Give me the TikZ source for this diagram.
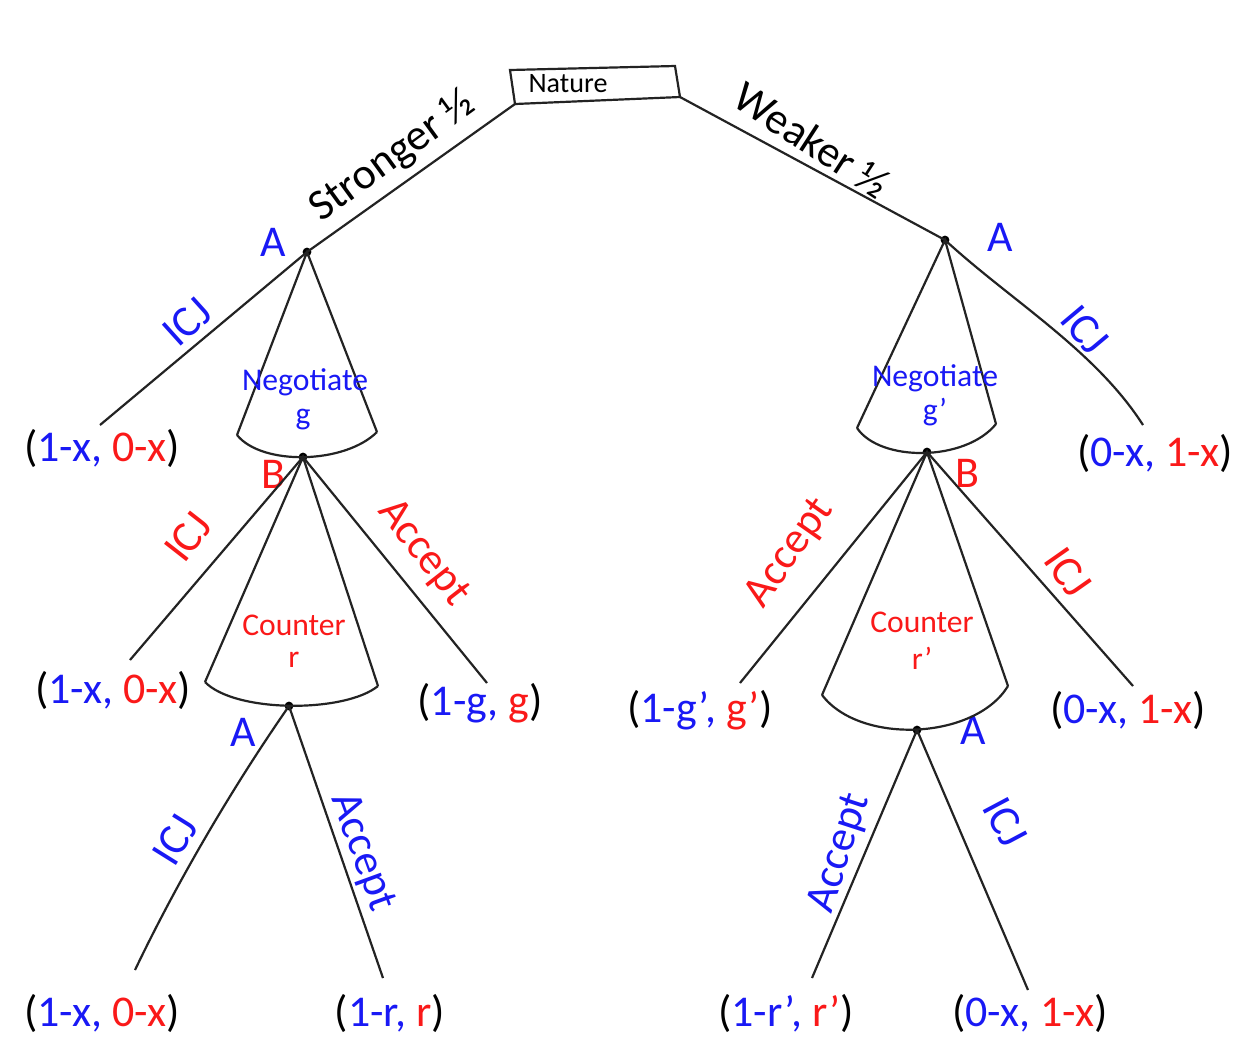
\documentclass[tikz,border=0pt]{standalone}
\usepackage{fontspec}
\setmainfont{Carlito}
\definecolor{pblue}{RGB}{25,25,245}
\definecolor{pred}{RGB}{250,25,25}
\definecolor{pline}{RGB}{35,35,35}
\newcommand{\fsL}{\fontsize{25}{30}\selectfont}
\newcommand{\fsM}{\fontsize{18}{22}\selectfont}
\newcommand{\fsS}{\fontsize{16}{19}\selectfont}
\newcommand{\pay}[2]{(\textcolor{pblue}{#1,} \textcolor{pred}{#2})}
\begin{document}
\begin{tikzpicture}[x=0.02cm,y=-0.02cm,
  edge/.style={draw=pline,line width=1.25pt},
  lbl/.style={inner sep=0pt,font=\fsL},
  bl/.style={lbl,text=pblue},
  rl/.style={lbl,text=pred},
  mid/.style={inner sep=0pt,font=\fsM,align=center},
  leaf/.style={inner sep=0pt,font=\fsL},
  dotc/.style={circle,fill=black,inner sep=0pt,minimum size=5pt}]
\fill[white] (0,0) rectangle (1244,1063);
\useasboundingbox (0,0) rectangle (1244,1063);

% Nature box
\coordinate (b1) at (510,70); \coordinate (b2) at (675,66);
\coordinate (NR) at (680,97); \coordinate (NL) at (515,104);
\draw[edge] (b1) -- (b2) -- (NR) -- (NL) -- cycle;
\node[inner sep=0pt,font=\fsS] (nat) at (568,84) {Nature};

% decision points
\node[dotc] (A1) at (307,252) {};
\node[dotc] (A2) at (945,240) {};
\node[dotc] (B1) at (303,457) {};
\node[dotc] (B2) at (927,452) {};
\node[dotc] (A3) at (289,706) {};
\node[dotc] (A4) at (917,730) {};

\draw[edge] (NL) -- (A1.center);
\draw[edge] (NR) -- (A2.center);
\node[lbl,rotate=36] (str) at (393,157) {Stronger ½};
\node[lbl,rotate=-33] (wk) at (812,140) {Weaker ½};

\node[bl] (la1) at (273,242) {A};
\node[bl] (la2) at (1000,237) {A};
\node[rl] (lb1) at (273,474) {B};
\node[rl] (lb2) at (967,473) {B};
\node[bl] (la3) at (243,732) {A};
\node[bl] (la4) at (973,730) {A};

% ---------- left side
\coordinate (e1) at (100,425);
\draw[edge] (A1.center) -- (e1);
\node[bl,rotate=42] (icj1) at (187,322) {ICJ};
\node[leaf] (p1) at (102,448) {\pay{1-x}{0-x}};

\coordinate (c1l) at (237,435); \coordinate (c1r) at (377,432);
\draw[edge] (c1l) -- (A1.center) -- (c1r);
\draw[edge] (c1l) .. controls (262,466) and (345,464) .. (c1r);
\node[mid,text=pblue] (neg1) at (305,382) {Negotiate};
\node[mid,text=pblue] (g1) at (303,420) {g};

\coordinate (e2) at (130,660);
\coordinate (e3) at (487,683);
\draw[edge] (B1.center) -- (e2);
\draw[edge] (B1.center) -- (e3);
\node[rl,rotate=52] (icj2) at (188,537) {ICJ};
\node[rl,rotate=-52] (acc2) at (423,553) {Accept};
\node[leaf] (p2) at (113,690) {\pay{1-x}{0-x}};
\node[leaf] (p3) at (480,703) {\pay{1-g}{g}};

\coordinate (c2l) at (205,682); \coordinate (c2r) at (378,686);
\draw[edge] (c2l) -- (B1.center) -- (c2r);
\draw[edge] (c2l) .. controls (235,713) and (345,713) .. (c2r);
\node[mid,text=pred] (cnt1) at (294,625) {Counter};
\node[mid,text=pred] (r1) at (294,660) {r};

\coordinate (e4) at (135,970);
\coordinate (e5) at (383,978);
\draw[edge] (A3.center) .. controls (234,785) and (178,880) .. (e4);
\draw[edge] (A3.center) -- (e5);
\node[bl,rotate=58] (icj3) at (175,840) {ICJ};
\node[bl,rotate=-70] (acc3) at (362,852) {Accept};
\node[leaf] (p4) at (102,1013) {\pay{1-x}{0-x}};
\node[leaf] (p5) at (390,1013) {\pay{1-r}{r}};

% ---------- right side
\coordinate (f1) at (1143,425);
\draw[edge] (A2.center) .. controls (1010,300) and (1095,350) .. (f1);
\node[bl,rotate=-50] (icj4) at (1085,330) {ICJ};
\node[leaf] (q1) at (1155,453) {\pay{0-x}{1-x}};

\coordinate (c3l) at (857,428); \coordinate (c3r) at (996,424);
\draw[edge] (c3l) -- (A2.center) -- (c3r);
\draw[edge] (c3l) .. controls (880,462) and (965,462) .. (c3r);
\node[mid,text=pblue] (neg2) at (935,378) {Negotiate};
\node[mid,text=pblue] (g2) at (935,412) {g’};

\coordinate (f2) at (740,683);
\coordinate (f3) at (1133,686);
\draw[edge] (B2.center) -- (f2);
\draw[edge] (B2.center) -- (f3);
\node[rl,rotate=55] (acc4) at (790,553) {Accept};
\node[rl,rotate=-55] (icj5) at (1068,572) {ICJ};
\node[leaf] (q2) at (700,710) {\pay{1-g’}{g’}};
\node[leaf] (q3) at (1128,710) {\pay{0-x}{1-x}};

\coordinate (c4l) at (822,695); \coordinate (c4r) at (1008,686);
\draw[edge] (c4l) -- (B2.center) -- (c4r);
\draw[edge] (c4l) .. controls (860,745) and (975,740) .. (c4r);
\node[mid,text=pred] (cnt2) at (922,622) {Counter};
\node[mid,text=pred] (r2) at (922,658) {r’};

\coordinate (f4) at (812,978);
\coordinate (f5) at (1028,990);
\draw[edge] (A4.center) -- (f4);
\draw[edge] (A4.center) -- (f5);
\node[bl,rotate=72] (acc5) at (840,853) {Accept};
\node[bl,rotate=-62] (icj6) at (1005,822) {ICJ};
\node[leaf] (q4) at (786,1013) {\pay{1-r’}{r’}};
\node[leaf] (q5) at (1030,1013) {\pay{0-x}{1-x}};
\end{tikzpicture}
\end{document}
